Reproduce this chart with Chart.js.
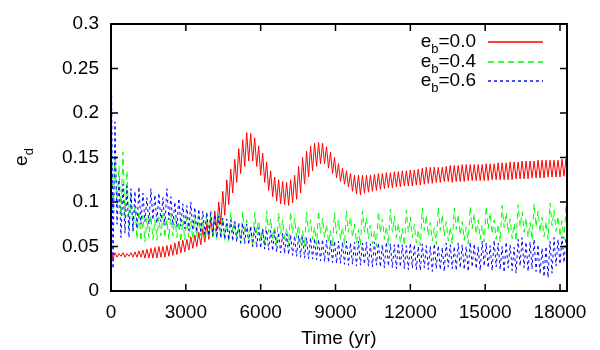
<!DOCTYPE html>
<html>
<head>
<meta charset="utf-8">
<script src="https://cdn.jsdelivr.net/npm/chart.js@4.4.0/dist/chart.umd.min.js"></script>
<style>
  html, body { margin: 0; padding: 0; background: #fff; }
  #wrap { width: 600px; height: 350px; }
</style>
</head>
<body>
<div id="wrap"><canvas id="myChart" width="600" height="350"></canvas></div>
<script>
// valores: maximo y minimo de cada oscilacion (una cada 160 yr)
const cycleYr = 160;

const redHi = [
  .046,.043,.042,.043,.042,.043,.044,.045,.046,.047,
  .048,.049,.050,.050,.051,.052,.054,.056,.057,.058,
  .061,.063,.066,.070,.075,.082,.090,.100,.112,.125,
  .137,.148,.160,.170,.178,.177,.172,.163,.155,.145,
  .135,.128,.125,.123,.122,.125,.130,.140,.150,.157,
  .163,.166,.167,.166,.162,.156,.150,.143,.138,.135,
  .132,.130,.130,.130,.130,.130,.131,.132,.132,.133,
  .133,.134,.134,.135,.135,.136,.136,.137,.138,.139,
  .139,.139,.139,.139,.140,.141,.141,.141,.142,.142,
  .142,.142,.142,.142,.143,.143,.143,.144,.144,.144,
  .145,.145,.145,.146,.146,.146,.146,.147,.147,.147,
  .147,.147,.147,.148,.148
];
const redLo = [
  .036,.038,.039,.038,.039,.038,.038,.038,.037,.037,
  .037,.037,.038,.038,.039,.040,.041,.043,.044,.046,
  .048,.050,.052,.055,.058,.062,.068,.075,.085,.097,
  .110,.122,.132,.140,.146,.146,.140,.130,.122,.113,
  .106,.101,.098,.097,.096,.099,.103,.110,.120,.128,
  .135,.140,.143,.143,.138,.132,.127,.123,.120,.117,
  .112,.109,.108,.110,.111,.112,.113,.114,.115,.116,
  .116,.117,.117,.118,.118,.118,.119,.119,.120,.121,
  .121,.122,.122,.123,.123,.122,.123,.123,.123,.124,
  .124,.124,.124,.124,.124,.125,.125,.125,.125,.125,
  .125,.126,.126,.126,.126,.127,.127,.127,.127,.128,
  .128,.128,.128,.129,.129
];

const greenHi = [
  .200,.150,.140,.156,.135,.110,.095,.090,.085,.082,
  .085,.080,.083,.086,.080,.087,.082,.078,.080,.083,
  .078,.082,.085,.080,.088,.084,.078,.086,.082,.076,
  .088,.080,.072,.089,.080,.072,.088,.079,.070,.090,
  .081,.073,.088,.080,.071,.089,.082,.074,.068,.089,
  .080,.072,.090,.082,.075,.068,.088,.080,.072,.090,
  .083,.075,.069,.090,.082,.074,.068,.089,.081,.073,
  .092,.084,.076,.070,.091,.083,.075,.069,.093,.085,
  .077,.071,.094,.086,.078,.072,.093,.086,.078,.072,
  .095,.087,.080,.074,.095,.088,.080,.075,.096,.088,
  .081,.076,.097,.089,.082,.077,.098,.090,.083,.078,
  .099,.091,.084,.079,.095
];
const greenLo = [
  .090,.095,.085,.080,.072,.065,.058,.056,.055,.060,
  .058,.057,.062,.060,.058,.062,.060,.055,.057,.060,
  .058,.060,.062,.060,.062,.060,.058,.060,.057,.055,
  .066,.060,.053,.064,.058,.052,.065,.057,.051,.066,
  .059,.052,.064,.058,.051,.065,.060,.053,.050,.066,
  .058,.052,.065,.060,.054,.050,.064,.058,.052,.066,
  .060,.054,.051,.066,.059,.053,.050,.065,.058,.052,
  .066,.060,.054,.051,.066,.060,.054,.051,.068,.062,
  .056,.052,.068,.062,.056,.053,.069,.063,.057,.053,
  .070,.064,.058,.055,.070,.064,.058,.055,.071,.065,
  .059,.056,.072,.066,.060,.057,.072,.066,.061,.058,
  .073,.067,.061,.058,.070
];

const blueHi = [
  .300,.190,.125,.120,.118,.115,.112,.117,.110,.105,
  .115,.108,.110,.105,.115,.106,.100,.104,.098,.096,
  .100,.094,.092,.090,.088,.090,.086,.084,.082,.081,
  .080,.078,.077,.076,.075,.073,.072,.071,.070,.069,
  .068,.067,.066,.065,.064,.063,.062,.062,.061,.060,
  .060,.059,.058,.058,.057,.057,.056,.056,.055,.056,
  .054,.055,.056,.054,.055,.053,.055,.054,.052,.055,
  .053,.052,.054,.052,.051,.054,.052,.050,.053,.051,
  .050,.053,.051,.049,.054,.052,.050,.054,.052,.050,
  .055,.053,.050,.056,.054,.051,.057,.054,.050,.055,
  .052,.049,.058,.060,.055,.055,.058,.052,.048,.050,
  .056,.060,.058,.061,.060
];
const blueLo = [
  .025,.075,.060,.065,.060,.068,.070,.075,.078,.075,
  .080,.076,.078,.074,.080,.074,.072,.073,.070,.068,
  .068,.066,.065,.064,.062,.062,.060,.059,.058,.057,
  .056,.055,.054,.053,.052,.050,.049,.048,.047,.046,
  .045,.044,.043,.042,.041,.040,.039,.038,.037,.036,
  .036,.035,.034,.033,.032,.032,.031,.031,.030,.029,
  .030,.028,.029,.030,.028,.027,.029,.027,.026,.028,
  .026,.025,.027,.025,.024,.026,.024,.023,.026,.024,
  .022,.025,.024,.022,.027,.025,.023,.026,.024,.022,
  .027,.025,.023,.028,.026,.023,.027,.024,.021,.026,
  .023,.020,.028,.026,.022,.025,.022,.019,.016,.015,
  .020,.028,.030,.032,.034
];

const seriesLabels = ['0.0', '0.4', '0.6'];
const xTicks = [0, 3000, 6000, 9000, 12000, 15000, 18000];
const yTicks = [0, 0.05, 0.1, 0.15, 0.2, 0.25, 0.3];
const yTickLabels = ['0', '0.05', '0.1', '0.15', '0.2', '0.25', '0.3'];

const FONT = "'Liberation Sans', Arial, Helvetica, sans-serif";
const FS = 19;   // tamaño de letra principal
const SUB = 13;  // subindices
const colors = ['#ff0000', '#00ff00', '#0000ff'];
const dashes = [[], [6, 4], [3, 3]];

// arma la serie en zigzag: maximo al inicio del ciclo, minimo a la mitad
function zigzag(hi, lo) {
  const pts = [];
  hi.forEach((v, i) => {
    pts.push({ x: i * cycleYr, y: v });
    pts.push({ x: i * cycleYr + cycleYr / 2, y: lo[i] });
  });
  return pts;
}

// marco con ticks hacia adentro (estilo gnuplot)
const frame = {
  id: 'frame',
  afterDatasetsDraw(chart) {
    const { ctx, chartArea: a, scales: { x, y } } = chart;
    const tl = 7;
    ctx.save();
    ctx.strokeStyle = '#000';
    ctx.lineWidth = 1.5;
    ctx.beginPath();
    xTicks.forEach(v => {
      const px = x.getPixelForValue(v);
      ctx.moveTo(px, a.bottom); ctx.lineTo(px, a.bottom - tl);
      ctx.moveTo(px, a.top); ctx.lineTo(px, a.top + tl);
    });
    yTicks.forEach(v => {
      const py = y.getPixelForValue(v);
      ctx.moveTo(a.left, py); ctx.lineTo(a.left + tl, py);
      ctx.moveTo(a.right, py); ctx.lineTo(a.right - tl, py);
    });
    ctx.stroke();
    ctx.lineWidth = 2;
    ctx.strokeRect(a.left, a.top, a.right - a.left, a.bottom - a.top);
    ctx.restore();
  }
};

// texto con subindice (e_b, e_d)
function subText(ctx, base, sub, rest, x, y) {
  ctx.font = FS + 'px ' + FONT;
  ctx.fillText(base, x, y);
  let w = ctx.measureText(base).width;
  ctx.font = SUB + 'px ' + FONT;
  ctx.fillText(sub, x + w, y + 6);
  w += ctx.measureText(sub).width;
  ctx.font = FS + 'px ' + FONT;
  if (rest) ctx.fillText(rest, x + w, y);
}
function subWidth(ctx, base, sub, rest) {
  ctx.font = FS + 'px ' + FONT;
  let w = ctx.measureText(base + rest).width;
  ctx.font = SUB + 'px ' + FONT;
  return w + ctx.measureText(sub).width;
}

const labels = {
  id: 'labels',
  afterDraw(chart) {
    const ctx = chart.ctx;
    ctx.save();
    ctx.textBaseline = 'alphabetic';
    ctx.textAlign = 'left';
    // leyenda
    seriesLabels.forEach((lab, i) => {
      const rowY = 42 + i * 19.5;
      const rest = '=' + lab;
      const w = subWidth(ctx, 'e', 'b', rest);
      ctx.fillStyle = '#000';
      subText(ctx, 'e', 'b', rest, 476 - w, rowY + 5);
      ctx.strokeStyle = colors[i];
      ctx.lineWidth = 1.4;
      ctx.setLineDash(dashes[i]);
      ctx.beginPath();
      ctx.moveTo(488, Math.round(rowY));
      ctx.lineTo(543, Math.round(rowY));
      ctx.stroke();
      ctx.setLineDash([]);
    });
    // titulo eje y
    ctx.translate(23, 157);
    ctx.rotate(-Math.PI / 2);
    const w = subWidth(ctx, 'e', 'd', '');
    ctx.fillStyle = '#000';
    subText(ctx, 'e', 'd', '', -w / 2, 4);
    ctx.restore();
  }
};

const ctx = document.getElementById('myChart');
const myChart = new Chart(ctx, {
  type: 'line',
  data: {
    datasets: [{
      label: 'e_b=' + seriesLabels[0],
      data: zigzag(redHi, redLo),
      borderColor: colors[0],
      borderWidth: 1,
      order: 3
    }, {
      label: 'e_b=' + seriesLabels[1],
      data: zigzag(greenHi, greenLo),
      borderColor: colors[1],
      borderWidth: 1,
      borderDash: dashes[1],
      order: 2
    }, {
      label: 'e_b=' + seriesLabels[2],
      data: zigzag(blueHi, blueLo),
      borderColor: colors[2],
      borderWidth: 1,
      borderDash: dashes[2],
      order: 1
    }]
  },
  options: {
    responsive: false,
    animation: false,
    devicePixelRatio: 1,
    layout: { padding: { top: 24, right: 33, left: 0, bottom: 0 } },
    elements: { point: { radius: 0 }, line: { tension: 0 } },
    plugins: { legend: { display: false }, tooltip: { enabled: false } },
    scales: {
      x: {
        type: 'linear',
        min: 0,
        max: 18280,
        afterFit(s) { s.height = 59; },
        afterBuildTicks(s) { s.ticks = xTicks.map(v => ({ value: v })); },
        grid: { display: false, drawTicks: false },
        border: { display: false },
        ticks: { padding: 10, maxRotation: 0, color: '#000', font: { family: FONT, size: FS }, callback: v => String(v) },
        title: { display: true, text: 'Time (yr)', color: '#000', font: { family: FONT, size: FS }, padding: { top: 0, bottom: 0 } }
      },
      y: {
        min: 0,
        max: 0.3,
        afterFit(s) { s.width = 111; },
        afterBuildTicks(s) { s.ticks = yTicks.map(v => ({ value: v })); },
        grid: { display: false, drawTicks: false },
        border: { display: false },
        ticks: { padding: 12, color: '#000', font: { family: FONT, size: FS }, callback: (v, i) => yTickLabels[i] }
      }
    }
  },
  plugins: [frame, labels]
});
</script>
</body>
</html>
